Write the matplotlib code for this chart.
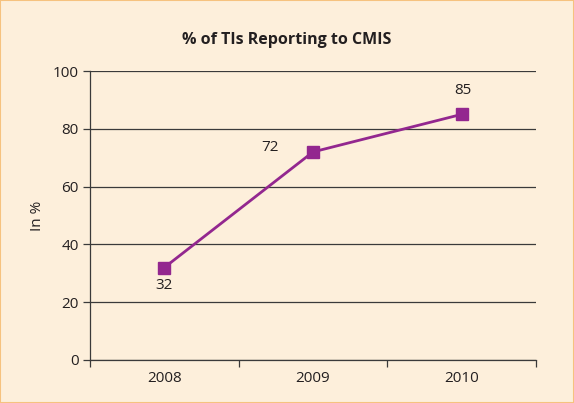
import matplotlib.pyplot as plt
import numpy as np

plt.rcParams['font.family'] = ['Open Sans', 'DejaVu Sans']

years = ['2008', '2009', '2010']
values = [32, 72, 85]
yticks = [0, 20, 40, 60, 80, 100]

bg = '#fdefdb'
purple = '#93278f'
dark = '#231f20'

fig = plt.figure(figsize=(5.74, 4.03), dpi=100, facecolor=bg)
ax = fig.add_axes([0.1568, 0.1067, 0.7770, 0.7171], facecolor=bg)

x = np.arange(len(years))
ax.plot(x, values, color=purple, lw=2, marker='s', ms=8, zorder=3)

# data labels
ax.annotate(str(values[0]), (x[0], values[0]), xytext=(0, -13), textcoords='offset points',
            ha='center', va='center', fontsize=11, color=dark)
ax.annotate(str(values[1]), (x[1], values[1]), xytext=(-31, 3), textcoords='offset points',
            ha='center', va='center', fontsize=11, color=dark)
ax.annotate(str(values[2]), (x[2], values[2]), xytext=(1, 17), textcoords='offset points',
            ha='center', va='center', fontsize=11, color=dark)

ax.set_xlim(-0.5, len(years) - 0.5)
ax.set_ylim(0, 100)
ax.set_yticks(yticks)
ax.yaxis.grid(True, color='#3a3a3a', lw=0.9)
ax.set_axisbelow(True)

ax.set_xticks(x)
ax.set_xticklabels(years)
ax.set_xticks(np.arange(-0.5, len(years)), minor=True)
ax.tick_params(axis='x', which='major', length=0, pad=8, labelsize=11, colors=dark)
ax.tick_params(axis='x', which='minor', length=5, width=0.9, color='#3a3a3a', direction='out')
ax.tick_params(axis='y', length=5, width=0.9, color='#3a3a3a', labelsize=11, labelcolor=dark, pad=3)

for s in ['top', 'right']:
    ax.spines[s].set_visible(False)
for s in ['left', 'bottom']:
    ax.spines[s].set_color('#3a3a3a')
    ax.spines[s].set_linewidth(0.9)

ax.set_ylabel('In %', fontsize=11, color=dark, labelpad=6)
fig.text(0.5, 0.9, '% of TIs Reporting to CMIS', ha='center', va='center',
         fontsize=11.5, fontweight='bold', color=dark)

fig.patches.append(plt.Rectangle((0, 0), 1, 1, transform=fig.transFigure, fill=False,
                                 edgecolor='#f6c27f', lw=1.5))

fig.savefig('out.png', dpi=100, facecolor=bg)
